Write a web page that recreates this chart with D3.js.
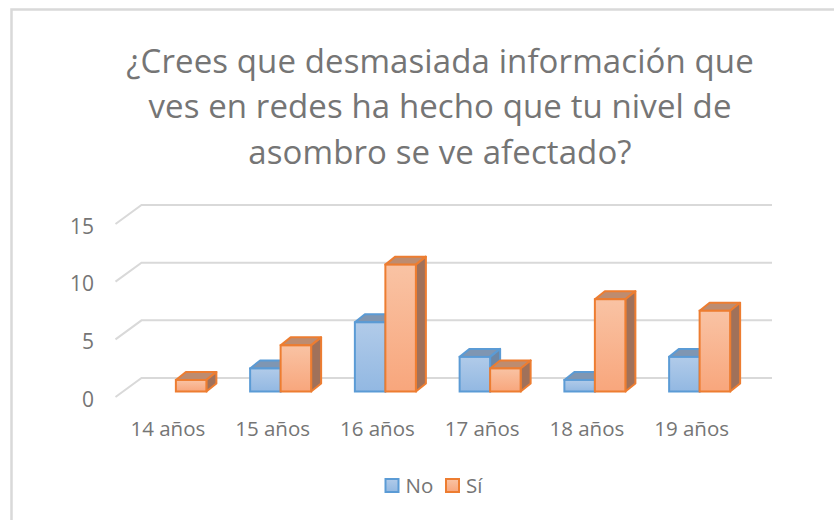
<!DOCTYPE html>
<html>
<head>
<meta charset="utf-8">
<script src="https://cdn.jsdelivr.net/npm/d3@7"></script>
<style>
  body { margin: 0; background: #fff; }
  text { font-family: "Open Sans", sans-serif; fill: #757575; }
</style>
</head>
<body>
<script>
var titleLines = ["¿Crees que desmasiada información que", "ves en redes ha hecho que tu nivel de", "asombro se ve afectado?"];
var categories = ["14 años", "15 años", "16 años", "17 años", "18 años", "19 años"];
var seriesNames = ["No", "Sí"];
var noValues = [0, 2, 6, 3, 1, 3];
var siValues = [1, 4, 11, 2, 8, 7];
var yTicks = [0, 5, 10, 15];

var width = 834, height = 520;

// front edge of the floor, the walls sit behind it by wallDx/wallDy
var wallDx = 26, wallDy = -19, wallRight = 772;
var barDx = 10, barDy = -8;

var x = d3.scaleBand().domain(categories).range([115.5, 744]);
var y = d3.scaleLinear().domain([0, 15]).range([397, 224]);
var barW = 30.5;

var svg = d3.select("body").append("svg")
    .attr("width", width)
    .attr("height", height)
    .style("display", "block");

var defs = svg.append("defs");
function grad(id, top, bottom) {
    var g = defs.append("linearGradient").attr("id", id)
        .attr("x1", 0).attr("y1", 0).attr("x2", 0).attr("y2", 1);
    g.append("stop").attr("offset", "0%").attr("stop-color", top);
    g.append("stop").attr("offset", "100%").attr("stop-color", bottom);
}
grad("gradNo", "#b1cbe9", "#92b8e2");
grad("gradSi", "#f9c3a4", "#f8a67c");

// chart border, the crop keeps only top and left
svg.append("path")
    .attr("d", "M11.5,520V9.5H834")
    .attr("fill", "none")
    .attr("stroke", "#d9d9d9")
    .attr("stroke-width", 2.5);

svg.append("g").selectAll("text")
    .data(titleLines)
    .enter().append("text")
    .attr("x", 440)
    .attr("y", function(d, i) { return 72.7 + i * 45.5; })
    .attr("text-anchor", "middle")
    .style("font-size", "33px")
    .style("letter-spacing", "0.1px")
    .text(function(d) { return d; });

// gridlines, floor tick then back wall
svg.append("g").selectAll("path")
    .data(yTicks)
    .enter().append("path")
    .attr("d", function(d) {
        var p = d3.path();
        p.moveTo(x.range()[0], y(d));
        p.lineTo(x.range()[0] + wallDx, y(d) + wallDy);
        p.lineTo(wallRight, y(d) + wallDy);
        return p.toString();
    })
    .attr("fill", "none")
    .attr("stroke", "#d9d9d9")
    .attr("stroke-width", 2);

var yAxis = d3.axisLeft(y).tickValues(yTicks).tickSize(0).tickPadding(21.5);
svg.append("g")
    .attr("transform", "translate(" + x.range()[0] + ",2.5)")
    .call(yAxis)
    .call(function(g) { g.select(".domain").remove(); })
    .selectAll("text")
    .style("font-family", "'Open Sans', sans-serif")
    .style("font-size", "21px");

var xAxis = d3.axisBottom(x).tickSize(0).tickPadding(24);
svg.append("g")
    .attr("transform", "translate(0," + y(0) + ")")
    .call(xAxis)
    .call(function(g) { g.select(".domain").remove(); })
    .selectAll("text")
    .style("font-family", "'Open Sans', sans-serif")
    .style("font-size", "20.5px");

// bars sit in the middle of the floor depth
var offX = (wallDx - barDx) / 2, offY = (wallDy - barDy) / 2;

function drawBar(g, name, value, x0) {
    if (!value) return;
    var cls = name === "No"
        ? {stroke: "#5b9bd5", grad: "url(#gradNo)", top: "#7f96b2", side: "#6d87a5"}
        : {stroke: "#ed7d31", grad: "url(#gradSi)", top: "#bd8c70", side: "#a0715a"};
    var x1 = x0 + barW, yT = y(value) + offY, yB = y(0) + offY;
    g.append("path")
        .attr("d", d3.line()([[x0, yT], [x0 + barDx, yT + barDy], [x1 + barDx, yT + barDy], [x1, yT]]) + "Z")
        .attr("fill", cls.top).attr("stroke", cls.stroke).attr("stroke-width", 2).attr("stroke-linejoin", "round");
    g.append("path")
        .attr("d", d3.line()([[x1, yT], [x1 + barDx, yT + barDy], [x1 + barDx, yB + barDy], [x1, yB]]) + "Z")
        .attr("fill", cls.side).attr("stroke", cls.stroke).attr("stroke-width", 2).attr("stroke-linejoin", "round");
    g.append("rect")
        .attr("x", x0).attr("y", yT)
        .attr("width", barW).attr("height", yB - yT)
        .attr("fill", cls.grad).attr("stroke", cls.stroke).attr("stroke-width", 2);
}

var bars = svg.append("g");
categories.forEach(function(c, i) {
    var mid = x(c) + x.bandwidth() / 2 + offX;
    drawBar(bars, "No", noValues[i], mid - barW);
    drawBar(bars, "Sí", siValues[i], mid);
});

// legend
var legendX = [385.5, 446];
var legend = svg.append("g").selectAll("g")
    .data(seriesNames)
    .enter().append("g")
    .attr("transform", function(d, i) { return "translate(" + legendX[i] + ",479)"; });
legend.append("rect")
    .attr("width", 13).attr("height", 13)
    .attr("fill", function(d) { return d === "No" ? "url(#gradNo)" : "url(#gradSi)"; })
    .attr("stroke", function(d) { return d === "No" ? "#5b9bd5" : "#ed7d31"; })
    .attr("stroke-width", 2);
legend.append("text")
    .attr("x", 20).attr("y", 13.5)
    .style("font-size", "20.5px")
    .text(function(d) { return d; });
</script>
</body>
</html>
